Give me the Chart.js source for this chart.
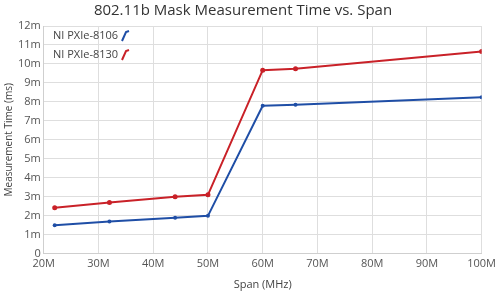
<!DOCTYPE html>
<html>
<head>
<meta charset="utf-8">
<script src="https://cdn.jsdelivr.net/npm/chart.js@4"></script>
<style>
  html, body { margin: 0; padding: 0; background: #fff; }
  #wrap { width: 500px; height: 293px; }
</style>
</head>
<body>
<div id="wrap"><canvas id="chart"></canvas></div>
<script>
// span in MHz
let spans = [22, 32, 44, 50, 60, 66, 100];
// measurement time in ms
let time8106 = [1.5, 1.69, 1.89, 1.99, 7.79, 7.85, 8.24];
let time8130 = [2.42, 2.7, 3.0, 3.1, 9.67, 9.74, 10.65];
let seriesNames = ["NI PXIe-8106", "NI PXIe-8130"];
let seriesColors = ["#1f4ea6", "#c92128"];

let font = "'Open Sans', 'DejaVu Sans', sans-serif";

function toPoints(ys) {
  return spans.map((x, i) => ({ x: x, y: ys[i] }));
}

// small legend drawn inside the plot, top-left
let insideLegend = {
  id: "insideLegend",
  afterDraw(chart) {
    let ctx = chart.ctx;
    ctx.save();
    ctx.font = "11px " + font;
    ctx.textBaseline = "middle";
    chart.data.datasets.forEach((ds, i) => {
      let y = 36 + i * 19;
      ctx.fillStyle = "#444";
      ctx.fillText(ds.label, 53, y);
      // little arrow-ish icon
      ctx.strokeStyle = ds.borderColor;
      ctx.lineWidth = 2;
      ctx.beginPath();
      ctx.moveTo(122, y + 5);
      ctx.lineTo(126, y - 4);
      ctx.lineTo(129, y - 5);
      ctx.stroke();
    });
    ctx.restore();
  },
};

let config = {
  type: "line",
  data: {
    datasets: [
      {
        label: seriesNames[0],
        data: toPoints(time8106),
        borderColor: seriesColors[0],
        backgroundColor: seriesColors[0],
        borderWidth: 2,
        pointRadius: 2,
        pointBorderWidth: 0,
        tension: 0,
      },
      {
        label: seriesNames[1],
        data: toPoints(time8130),
        borderColor: seriesColors[1],
        backgroundColor: seriesColors[1],
        borderWidth: 2,
        pointRadius: 2.5,
        pointBorderWidth: 0,
        tension: 0,
      },
    ],
  },
  options: {
    responsive: true,
    maintainAspectRatio: false,
    animation: false,
    layout: { padding: { left: 3, right: 17, top: 0, bottom: 0 } },
    plugins: {
      legend: { display: false },
      tooltip: { enabled: false },
      title: {
        display: true,
        text: "802.11b Mask Measurement Time vs. Span",
        color: "#333",
        font: { family: font, size: 15, weight: "normal" },
        padding: { top: 2, bottom: 6 },
      },
    },
    scales: {
      x: {
        type: "linear",
        min: 20,
        max: 100,
        ticks: {
          stepSize: 10,
          color: "#555",
          font: { family: font, size: 11 },
          padding: 4,
          callback: (v) => v + "M",
        },
        grid: { color: "#dedede", drawTicks: false },
        border: { color: "#cfcfcf" },
        title: {
          display: true,
          text: "Span (MHz)",
          color: "#444",
          font: { family: font, size: 11 },
          padding: { top: 3, bottom: 2 },
        },
      },
      y: {
        min: 0,
        max: 12,
        ticks: {
          stepSize: 1,
          color: "#555",
          font: { family: font, size: 11 },
          padding: 3,
          callback: (v) => (v === 0 ? "0" : v + "m"),
        },
        grid: { color: "#dedede", drawTicks: false },
        border: { color: "#cfcfcf" },
        title: {
          display: true,
          text: "Measurement Time (ms)",
          color: "#444",
          font: { family: font, size: 10 },
          padding: { top: 0, bottom: 0 },
        },
      },
    },
  },
  plugins: [insideLegend],
};

let chart = new Chart(document.getElementById("chart").getContext("2d"), config);
</script>
</body>
</html>
